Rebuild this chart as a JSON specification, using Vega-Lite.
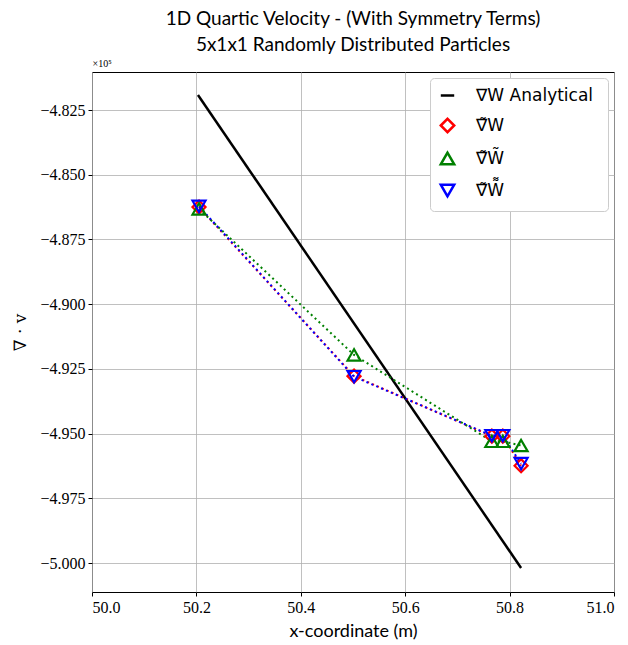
{
  "$schema": "https://vega.github.io/schema/vega-lite/v6.json",
  "width": 522,
  "height": 520,
  "autosize": {"type": "none"},
  "padding": {"left": 92, "top": 72, "right": 14, "bottom": 53},
  "background": "white",
  "title": {
    "text": ["1D Quartic Velocity - (With Symmetry Terms)", "5x1x1 Randomly Distributed Particles"],
    "font": "Lato",
    "fontSize": 19,
    "fontWeight": "normal",
    "lineHeight": 26,
    "offset": 3,
    "anchor": "middle",
    "color": "black"
  },
  "config": {
    "view": {"stroke": "black", "strokeWidth": 1},
    "axis": {
      "domain": false,
      "grid": true,
      "gridColor": "#b0b0b0",
      "gridWidth": 0.8,
      "tickColor": "black",
      "tickSize": 4,
      "labelFont": "Liberation Serif",
      "labelFontSize": 16,
      "labelColor": "black",
      "labelPadding": 3,
      "titleColor": "black",
      "titleFontWeight": "normal"
    },
    "legend": {
      "orient": "top-right",
      "offset": 6,
      "padding": 9,
      "fillColor": "white",
      "strokeColor": "#cccccc",
      "cornerRadius": 4,
      "labelFont": "DejaVu Sans",
      "labelFontSize": 17,
      "labelColor": "black",
      "symbolSize": 180,
      "symbolStrokeWidth": 2.5,
      "rowPadding": 9,
      "labelOffset": 20
    }
  },
  "data": {
    "values": [
      {"x": 50.203, "y": -481920, "series": "∇W  Analytical"},
      {"x": 50.822, "y": -500190, "series": "∇W  Analytical"},
      {"x": 50.205, "y": -486250, "series": "∇̃W"},
      {"x": 50.502, "y": -492780, "series": "∇̃W"},
      {"x": 50.766, "y": -495100, "series": "∇̃W"},
      {"x": 50.787, "y": -495100, "series": "∇̃W"},
      {"x": 50.822, "y": -496240, "series": "∇̃W"},
      {"x": 50.205, "y": -486320, "series": "∇̃W̃"},
      {"x": 50.502, "y": -491960, "series": "∇̃W̃"},
      {"x": 50.766, "y": -495300, "series": "∇̃W̃"},
      {"x": 50.787, "y": -495300, "series": "∇̃W̃"},
      {"x": 50.822, "y": -495460, "series": "∇̃W̃"},
      {"x": 50.205, "y": -486220, "series": "∇̃W͌"},
      {"x": 50.502, "y": -492800, "series": "∇̃W͌"},
      {"x": 50.766, "y": -495080, "series": "∇̃W͌"},
      {"x": 50.787, "y": -495080, "series": "∇̃W͌"},
      {"x": 50.822, "y": -496160, "series": "∇̃W͌"}
    ]
  },
  "layer": [
    {
      "mark": {"type": "line", "strokeWidth": 2.5, "clip": true, "color": "black"},
      "transform": [{"filter": "datum.series === '∇W  Analytical'"}],
      "encoding": {
        "x": {
          "field": "x", "type": "quantitative",
          "scale": {"domain": [50, 51], "nice": false, "zero": false},
          "axis": {"values": [50, 50.2, 50.4, 50.6, 50.8, 51], "format": ".1f",
                   "title": "x-coordinate (m)", "titleFont": "Lato", "titleFontSize": 18, "titlePadding": 7}
        },
        "y": {
          "field": "y", "type": "quantitative",
          "scale": {"domain": [-501120, -481030], "nice": false, "zero": false},
          "axis": {"orient": "left", "grid": true,
                   "values": [-482500, -485000, -487500, -490000, -492500, -495000, -497500, -500000],
                   "labelExpr": "format(datum.value/100000, '.3f')",
                   "title": "∇ · v", "titleFont": "DejaVu Serif", "titleFontSize": 17, "titlePadding": 10}
        }
      }
    },
    {
      "mark": {"type": "line", "strokeWidth": 2, "strokeDash": [2, 3.3]},
      "transform": [{"filter": "datum.series !== '∇W  Analytical'"}],
      "encoding": {
        "x": {"field": "x", "type": "quantitative"},
        "y": {
          "field": "y", "type": "quantitative",
          "axis": {"orient": "right", "labels": false, "ticks": false, "grid": false, "domain": false,
                   "title": "×10⁵", "titleAngle": 0, "titleX": -522, "titleY": -4, "titleAlign": "left",
                   "titleBaseline": "bottom", "titleFont": "Liberation Serif", "titleFontSize": 10}
        },
        "detail": {"field": "series"},
        "color": {"field": "series", "type": "nominal"}
      }
    },
    {
      "mark": {"type": "point", "filled": false, "strokeWidth": 2.2, "size": 170},
      "encoding": {
        "x": {"field": "x", "type": "quantitative"},
        "y": {
          "field": "y", "type": "quantitative",
          "axis": {"orient": "left", "labels": false, "ticks": false, "grid": false, "domain": false, "title": null}
        },
        "color": {
          "field": "series", "type": "nominal",
          "scale": {"domain": ["∇W  Analytical", "∇̃W", "∇̃W̃", "∇̃W͌"], "range": ["black", "red", "green", "blue"]},
          "legend": {"title": null}
        },
        "shape": {
          "field": "series", "type": "nominal",
          "scale": {"domain": ["∇W  Analytical", "∇̃W", "∇̃W̃", "∇̃W͌"], "range": ["stroke", "diamond", "triangle-up", "triangle-down"]},
          "legend": {"title": null}
        },
        "opacity": {"condition": {"test": "datum.series === '∇W  Analytical'", "value": 0}, "value": 1}
      }
    }
  ],
  "resolve": {"axis": {"y": "independent"}}
}
